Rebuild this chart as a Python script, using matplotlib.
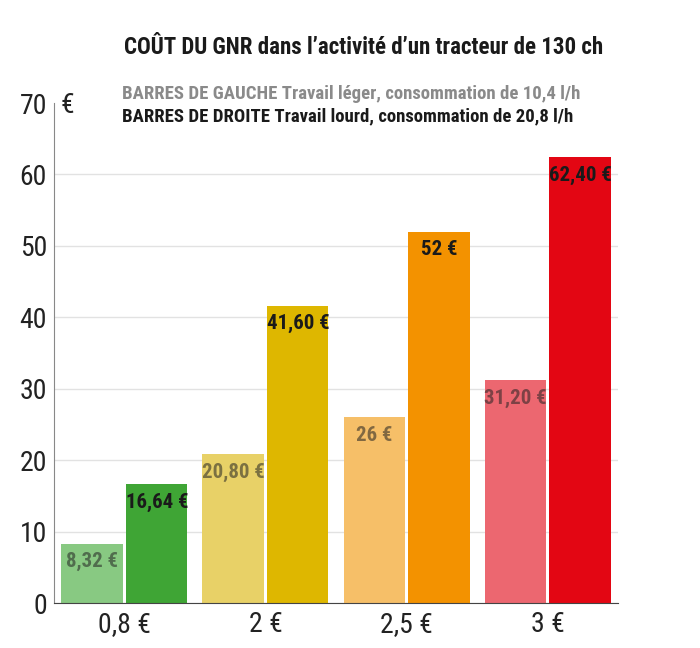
import numpy as np
import matplotlib.pyplot as plt

plt.rcParams['font.family'] = ['Roboto Condensed', 'DejaVu Sans']

prices = ['0,8 €', '2 €', '2,5 €', '3 €']
leger = [8.32, 20.80, 26, 31.20]
lourd = [16.64, 41.60, 52, 62.40]
leger_labels = ['8,32 €', '20,80 €', '26 €', '31,20 €']
lourd_labels = ['16,64 €', '41,60 €', '52 €', '62,40 €']
light_colors = ['#88c982', '#e8d167', '#f6bf68', '#ec6770']
dark_colors = ['#3fa535', '#deb700', '#f39200', '#e30613']

fig = plt.figure(figsize=(7, 6.48), dpi=100)
ax = fig.add_axes([0.077, 0.0694, 0.806, 0.7716])

x = np.arange(len(prices))
w = 0.433
off = 0.23
ax.bar(x - off, leger, w, color=light_colors, zorder=2)
ax.bar(x + off, lourd, w, color=dark_colors, zorder=2)

for i in range(len(prices)):
    ax.annotate(leger_labels[i], (x[i] - off, leger[i]), xytext=(0, -6), textcoords='offset points',
                ha='center', va='top', fontsize=15, fontweight='bold', color='#222222', alpha=0.55, zorder=3)
    ax.annotate(lourd_labels[i], (x[i] + off, lourd[i]), xytext=(0, -6), textcoords='offset points',
                ha='center', va='top', fontsize=15, fontweight='bold', color='#1a1a1a', zorder=3)

ax.set_xlim(-0.5, 3.5)
ax.set_ylim(0, 70)
ax.set_yticks(np.arange(0, 71, 10))
ax.set_xticks(x)
ax.set_xticklabels(prices)
ax.tick_params(axis='both', length=0, labelsize=20, colors='#222222')
ax.tick_params(axis='y', pad=5)
ax.tick_params(axis='x', pad=6)
ax.grid(axis='y', color='#e2e2e2', linewidth=1, zorder=0)
ax.set_axisbelow(True)
# no grid line at the top value
ax.yaxis.get_gridlines()[-1].set_visible(False)
for s in ['top', 'right']:
    ax.spines[s].set_visible(False)
ax.spines['left'].set_color('#888888')
ax.spines['bottom'].set_color('#444444')

ax.text(0.012, 0.995, '€', transform=ax.transAxes, ha='left', va='center', fontsize=20, color='#222222')

fig.text(0.519, 0.927, "COÛT DU GNR dans l’activité d’un tracteur de 130 ch", ha='center', va='center',
         fontsize=16.5, fontweight='bold', color='#1a1a1a')
fig.text(0.174, 0.855, 'BARRES DE GAUCHE Travail léger, consommation de 10,4 l/h', ha='left', va='center',
         fontsize=13.5, fontweight='bold', color='#8a8a8a')
fig.text(0.174, 0.820, 'BARRES DE DROITE Travail lourd, consommation de 20,8 l/h', ha='left', va='center',
         fontsize=13.5, fontweight='bold', color='#1a1a1a')

fig.savefig('out.png', dpi=100)
